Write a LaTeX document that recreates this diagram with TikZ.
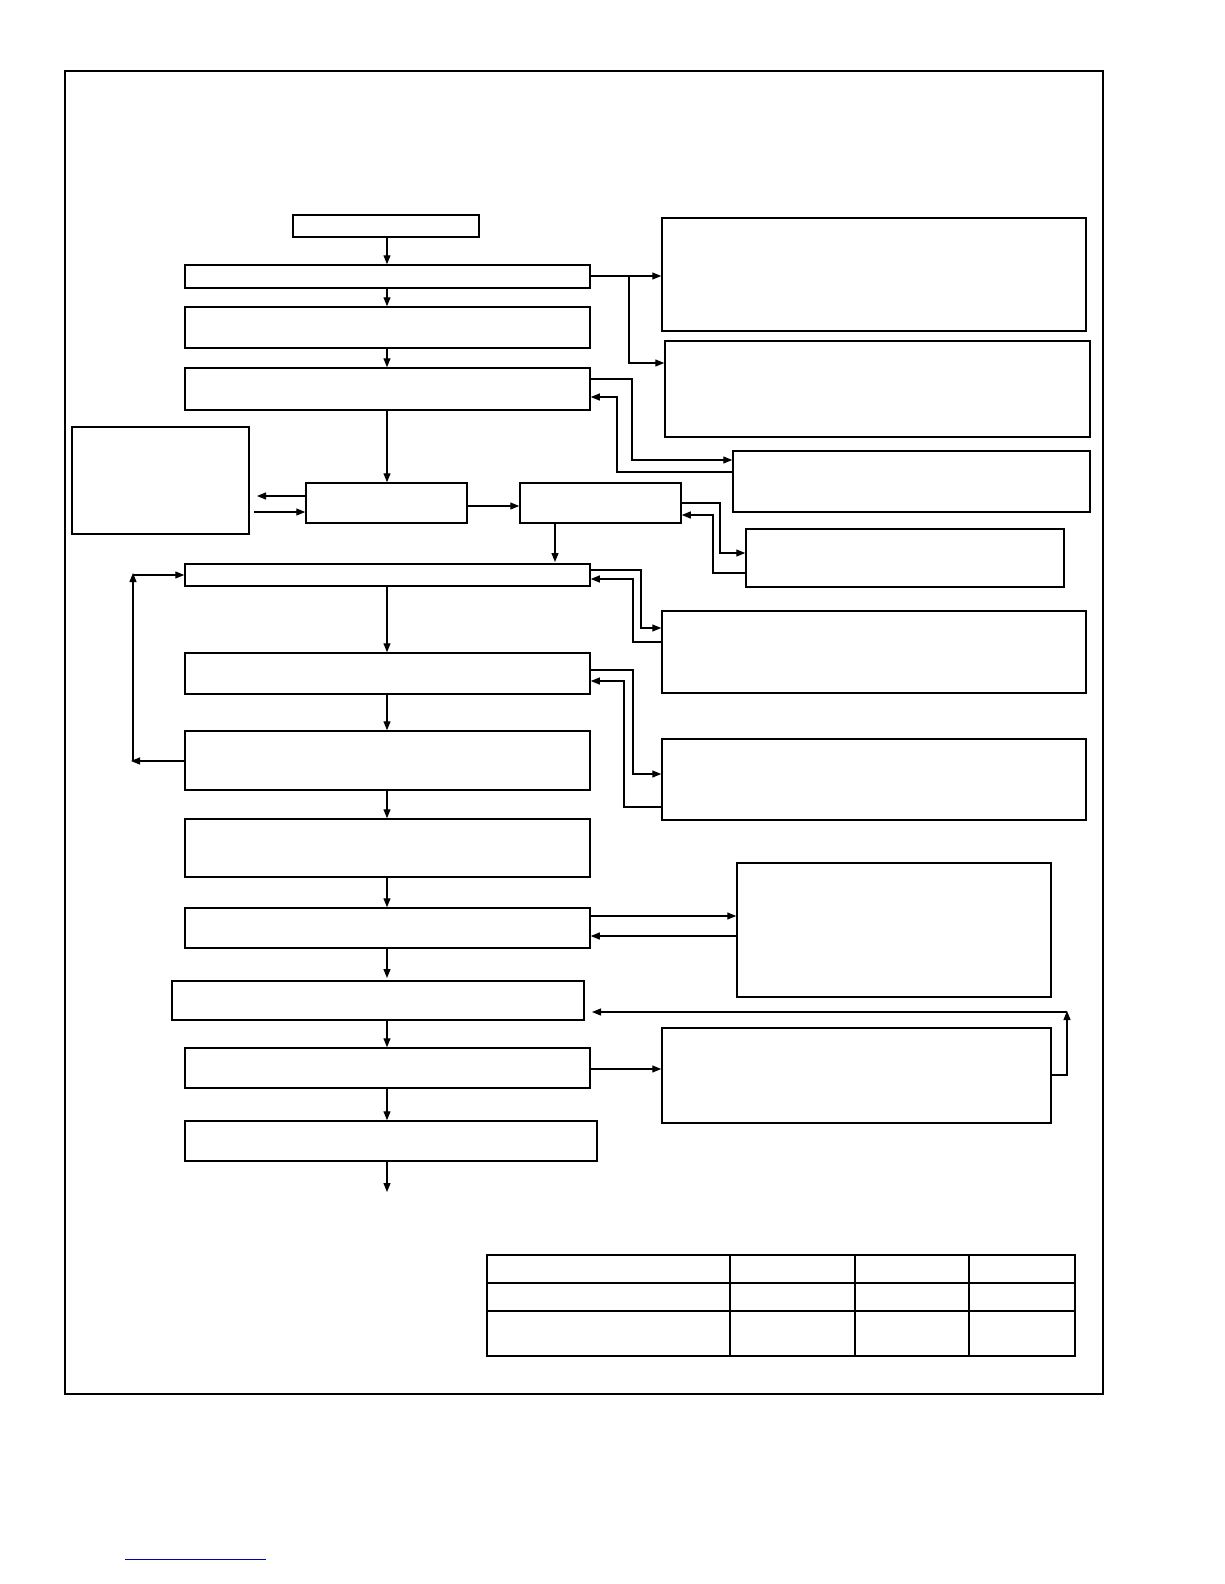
\documentclass[tikz,border=0pt]{standalone}
\usetikzlibrary{arrows.meta}
\begin{document}
\begin{tikzpicture}[x=1pt,y=-1pt,
  bx/.style={draw,line width=1.5pt},
  ln/.style={line width=1.2pt},
  ar/.style={ln,-{Triangle[length=9pt,width=7pt]}}]
\useasboundingbox (0,0) rectangle (1224,1584);
\draw[line width=2.2pt] (65,71) rectangle (1103,1394);
\newcommand\bxn[5]{\node[bx,inner sep=0pt,minimum width=#4-#2,minimum height=#5-#3] (#1) at ({(#2+#4)/2},{(#3+#5)/2}) {};}
\bxn{A}{293}{215}{479}{237}
\bxn{B}{185}{265}{590}{288}
\bxn{C}{185}{307}{590}{348}
\bxn{D}{185}{368}{590}{410}
\bxn{E}{306}{483}{467}{523}
\bxn{F}{520}{483}{681}{523}
\bxn{L}{72}{427}{249}{534}
\bxn{G}{185}{564}{590}{586}
\bxn{H}{185}{653}{590}{694}
\bxn{I}{185}{731}{590}{790}
\bxn{J}{185}{819}{590}{877}
\bxn{K}{185}{908}{590}{948}
\bxn{M}{172}{981}{584}{1020}
\bxn{N}{185}{1048}{590}{1088}
\bxn{O}{185}{1121}{597}{1161}
\bxn{Ra}{662}{218}{1086}{331}
\bxn{Rb}{665}{341}{1090}{437}
\bxn{Rc}{733}{451}{1090}{512}
\bxn{Rd}{746}{529}{1064}{587}
\bxn{Re}{662}{611}{1086}{693}
\bxn{Rf}{662}{739}{1086}{820}
\bxn{Rg}{737}{863}{1051}{997}
\bxn{Rh}{662}{1028}{1051}{1123}
% table
\draw[line width=1.2pt] (487,1255) rectangle (1075,1356);
\draw[line width=1.2pt] (487,1283)--(1075,1283) (487,1311)--(1075,1311)
 (730,1255)--(730,1356) (855,1255)--(855,1356) (969,1255)--(969,1356);
\draw[blue!70!black,line width=0.6pt] (125,1559)--(266,1559);
% main chain
\draw[ar] (A.south-|387,0) -- (B.north-|387,0);
\draw[ar] (B.south-|387,0) -- (C.north-|387,0);
\draw[ar] (C.south-|387,0) -- (D.north-|387,0);
\draw[ar] (D.south-|387,0) -- (E.north-|387,0);
\draw[ar] (E.east|-0,506) -- (F.west|-0,506);
\draw[ar] (F.south-|555,0) -- (555,562);
\draw[ar] (G.south-|387,0) -- (H.north-|387,0);
\draw[ar] (H.south-|387,0) -- (I.north-|387,0);
\draw[ar] (I.south-|387,0) -- (J.north-|387,0);
\draw[ar] (J.south-|387,0) -- (K.north-|387,0);
\draw[ar] (K.south-|387,0) -- (387,978);
\draw[ar] (M.south-|387,0) -- (N.north-|387,0);
\draw[ar] (N.south-|387,0) -- (O.north-|387,0);
\coordinate (end) at (387,1192);
\draw[ar] (O.south-|387,0) -- (end);
% L
\draw[ar] (E.west|-0,496) -- (257,496);
\draw[ar] (254,512) -- (E.west|-0,512);
% loop
\draw[ar] (I.west|-0,761) -- (131,761);
\draw[ar] (133,761) -- (133,573);
\draw[ar] (133,575) -- (G.west|-0,575);
% right side
\draw[ar] (B.east|-0,276) -- (Ra.west|-0,276);
\draw[ar] (629,276) -- (629,363) -- (Rb.west|-0,363);
\draw[ar] (D.east|-0,379) -- (632,379) -- (632,460) -- (Rc.west|-0,460);
\draw[ar] (Rc.west|-0,472) -- (617,472) -- (617,397) -- (D.east|-0,397);
\draw[ar] (F.east|-0,503) -- (720,503) -- (720,553) -- (Rd.west|-0,553);
\draw[ar] (Rd.west|-0,573) -- (713,573) -- (713,515) -- (F.east|-0,515);
\draw[ar] (G.east|-0,570) -- (641,570) -- (641,628) -- (Re.west|-0,628);
\draw[ar] (Re.west|-0,642) -- (633,642) -- (633,579) -- (G.east|-0,579);
\draw[ar] (H.east|-0,670) -- (633,670) -- (633,774) -- (Rf.west|-0,774);
\draw[ar] (Rf.west|-0,807) -- (624,807) -- (624,681) -- (H.east|-0,681);
\draw[ar] (K.east|-0,916) -- (Rg.west|-0,916);
\draw[ar] (Rg.west|-0,936) -- (K.east|-0,936);
\draw[ar] (N.east|-0,1069) -- (Rh.west|-0,1069);
\draw[ar] (Rh.east|-0,1075) -- (1067,1075) -- (1067,1011);
\draw[ar] (1067,1012) -- (592,1012);
\end{tikzpicture}
\end{document}
